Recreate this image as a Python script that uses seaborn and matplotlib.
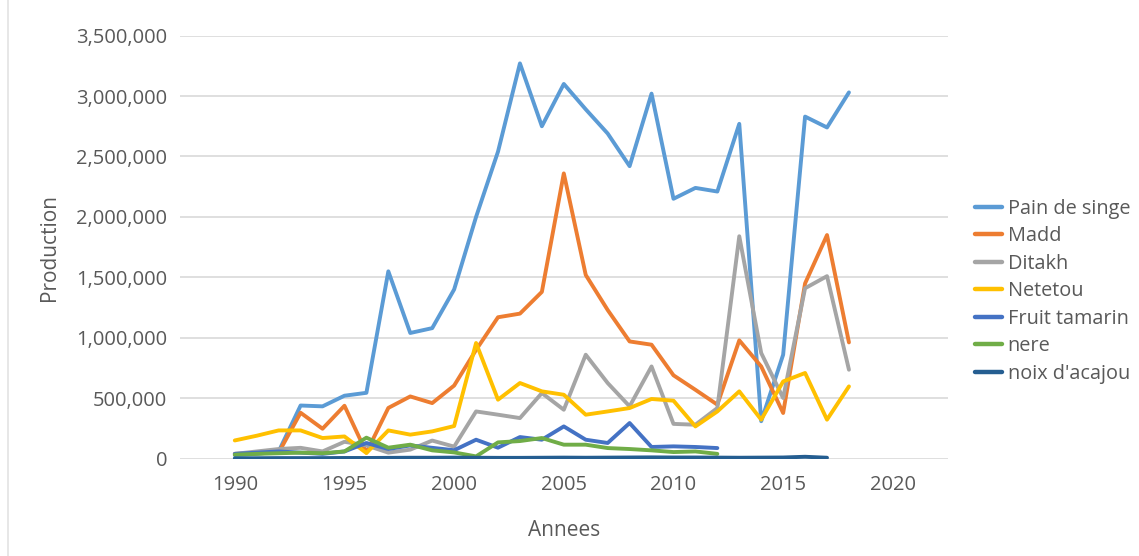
import numpy as np
import pandas as pd
import seaborn as sns
import matplotlib.pyplot as plt
from matplotlib.lines import Line2D
from matplotlib.ticker import FuncFormatter

# ----------------------------------------------------------
# data
# ----------------------------------------------------------
annees = list(range(1990, 2019))

pain_de_singe = [30000, 40000, 60000, 440000, 433000, 521000, 545000, 1550000, 1040000, 1080000,
                 1400000, 2000000, 2540000, 3270000, 2750000, 3100000, 2890000, 2690000, 2420000, 3020000,
                 2150000, 2240000, 2210000, 2770000, 310000, 860000, 2830000, 2740000, 3030000]
madd = [40000, 45000, 50000, 380000, 248000, 438000, 50000, 420000, 515000, 460000,
        605000, 900000, 1170000, 1200000, 1380000, 2360000, 1520000, 1230000, 970000, 943000,
        690000, 570000, 447000, 979000, 763000, 378000, 1450000, 1850000, 962000]
ditakh = [40000, 60000, 80000, 90000, 60000, 140000, 110000, 50000, 75000, 150000,
          100000, 391000, 364000, 336000, 543000, 405000, 860000, 626000, 433000, 763000,
          288000, 281000, 419000, 1840000, 874000, 502000, 1410000, 1510000, 736000]
netetou = [151000, 190000, 234000, 234000, 171000, 184000, 47000, 234000, 199000, 226000,
           270000, 957000, 488000, 626000, 557000, 529000, 364000, 391000, 419000, 494000,
           480000, 267000, 391000, 557000, 323000, 639000, 709000, 323000, 598000]
fruit_tamarin = [40000, 50000, 60000, 50000, 40000, 60000, 130000, 80000, 110000, 90000,
                 70000, 157000, 91000, 179000, 157000, 267000, 157000, 130000, 295000, 97000,
                 102000, 97000, 88000] + [np.nan] * 6
nere = [33000, 40000, 45000, 50000, 45000, 60000, 174000, 91000, 116000, 69000,
        52000, 19000, 135000, 146000, 171000, 116000, 116000, 88000, 80000, 69000,
        55000, 60000, 40000] + [np.nan] * 6
noix_acajou = [3000, 4000, 5000, 5000, 5000, 6000, 6000, 7000, 8000, 8000,
               9000, 8000, 7000, 7000, 8000, 9000, 8000, 9000, 10000, 11000,
               10000, 10000, 9000, 8000, 9000, 10000, 16000, 8000, np.nan]

series = {
    "Pain de singe": pain_de_singe,
    "Madd": madd,
    "Ditakh": ditakh,
    "Netetou": netetou,
    "Fruit tamarin": fruit_tamarin,
    "nere": nere,
    "noix d'acajou": noix_acajou,
}
couleurs = ["#5B9BD5", "#ED7D31", "#A5A5A5", "#FFC000", "#4472C4", "#70AD47", "#255E91"]

df = pd.DataFrame(series)
df["Annees"] = annees
long_df = df.melt(id_vars="Annees", var_name="produit", value_name="Production").dropna()

# ----------------------------------------------------------
# plot
# ----------------------------------------------------------
sns.set_style("white")
plt.rcParams["font.family"] = ["Open Sans", "DejaVu Sans"]

fig = plt.figure(figsize=(11.39, 5.56), dpi=100)
ax = fig.add_axes([0.158, 0.175, 0.674, 0.761])

sns.lineplot(data=long_df, x="Annees", y="Production", hue="produit",
             hue_order=list(series.keys()), palette=couleurs,
             linewidth=2.8, ax=ax, sort=False)

ax.set_xlim(1987.5, 2022.5)
ax.set_ylim(0, 3500000)
ax.set_xticks(range(1990, 2021, 5))
ax.set_yticks(range(0, 3500001, 500000))
ax.yaxis.set_major_formatter(FuncFormatter(lambda v, p: f"{int(v):,}"))
ax.grid(axis="y", color="#D9D9D9", linewidth=1.2)
ax.set_axisbelow(True)
for s in ax.spines.values():
    s.set_visible(False)
ax.tick_params(axis="y", length=0, labelsize=14.5, colors="#595959", pad=9)
ax.tick_params(axis="x", length=0, labelsize=14.5, colors="#595959", pad=12)

ax.set_xlabel("Annees", fontsize=15, color="#595959", labelpad=18)
ax.set_ylabel("Production", fontsize=15, color="#595959", labelpad=12)

leg = ax.legend(loc="center left", bbox_to_anchor=(1.012, 0.396), frameon=False,
                fontsize=14.3, handlelength=1.35, labelspacing=0.38, handletextpad=0.3)
for t in leg.get_texts():
    t.set_color("#595959")
for h in leg.get_lines():
    h.set_linewidth(3.2)

# faint chart-area border on the left
fig.add_artist(Line2D([8 / 1139, 8 / 1139], [0, 1], color="#E3E3E3", linewidth=1.2))

fig.savefig("out.png", dpi=100)
